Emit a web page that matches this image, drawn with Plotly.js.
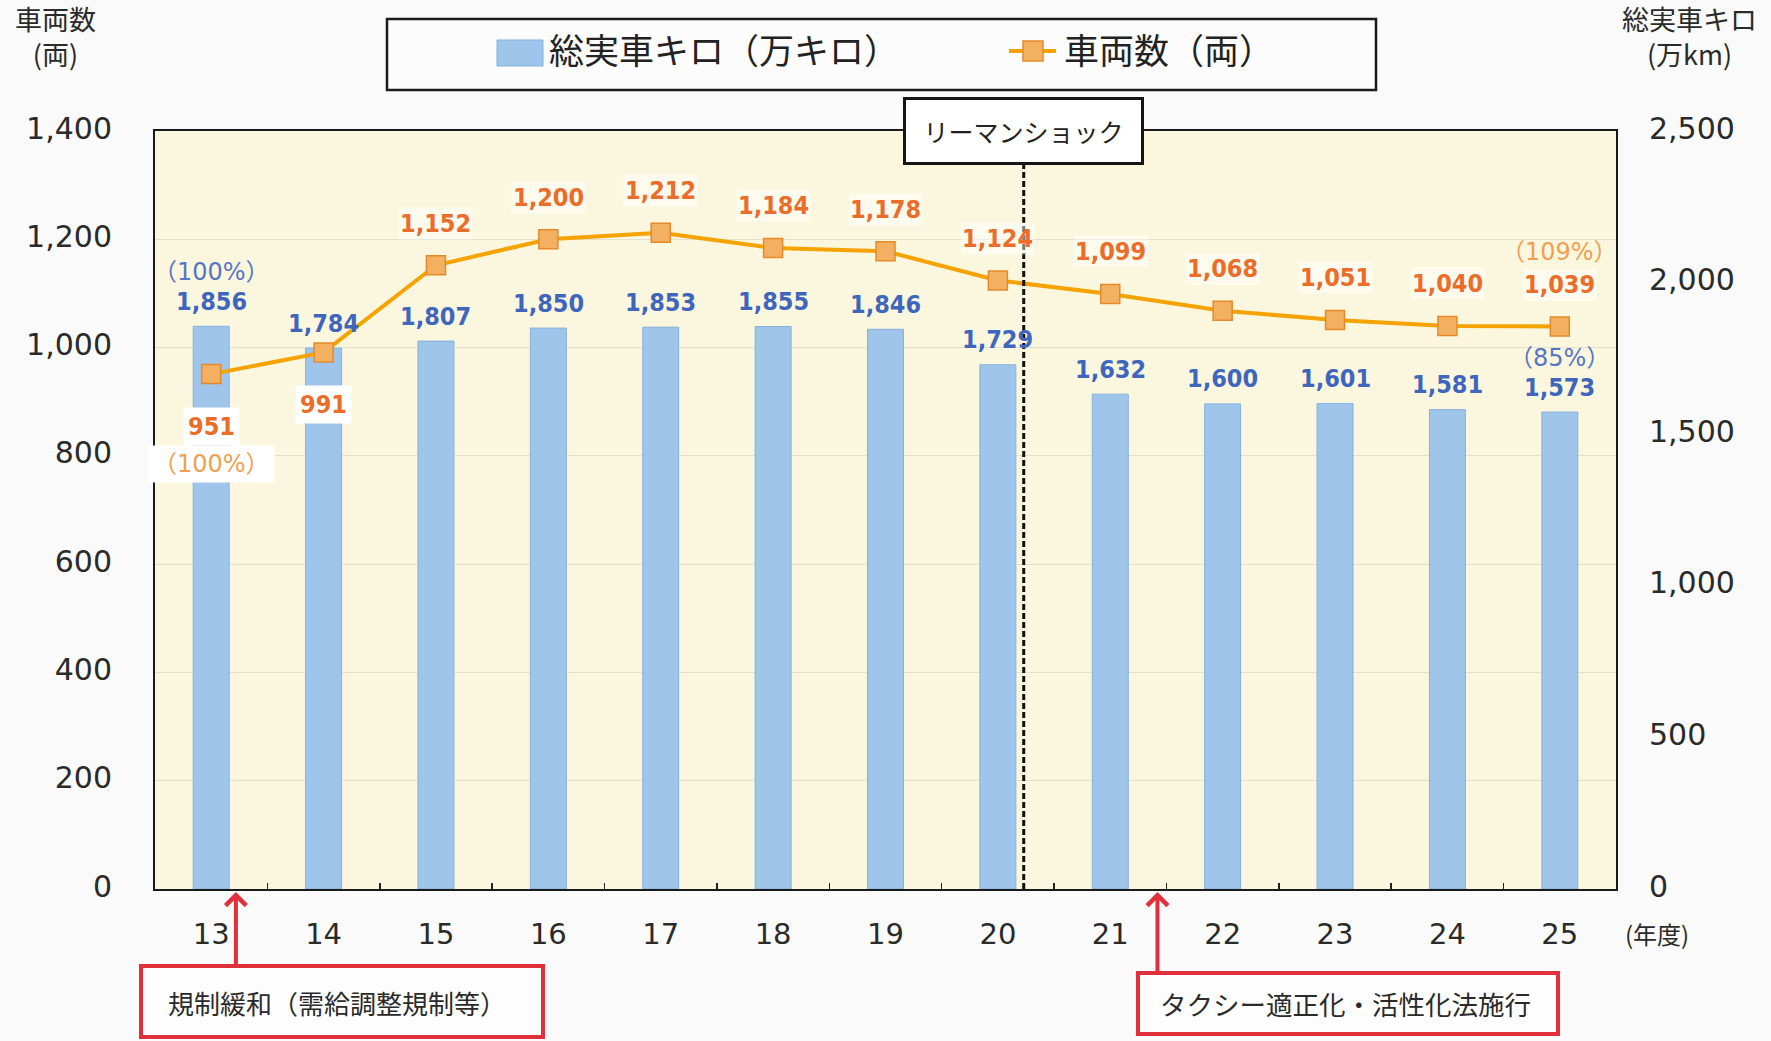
<!DOCTYPE html>
<html>
<head>
<meta charset="utf-8">
<script src="https://cdn.plot.ly/plotly-3.0.1.min.js"></script>
<style>
  html, body { margin: 0; padding: 0; background: #f9faf9; }
  #chart { width: 1771px; height: 1041px; }
</style>
</head>
<body>
<div id="chart"></div>
<script>
// ---- data ----
const years = ['13','14','15','16','17','18','19','20','21','22','23','24','25'];
const kmValues = [1856, 1784, 1807, 1850, 1853, 1855, 1846, 1729, 1632, 1600, 1601, 1581, 1573];   // 総実車キロ（万キロ）
const vehicleValues = [951, 991, 1152, 1200, 1212, 1184, 1178, 1124, 1099, 1068, 1051, 1040, 1039]; // 車両数（両）
const kmName = '総実車キロ（万キロ）';
const vehicleName = '車両数（両）';
const leftTitle = '車両数<br>(両)';
const rightTitle = '総実車キロ<br>(万km)';
const yearUnit = '(年度)';
const lehmanText = 'リーマンショック';
const deregText = '規制緩和（需給調整規制等）';
const taxiLawText = 'タクシー適正化・活性化法施行';
const vehicleLabelsBelow = ['13', '14'];

// ---- layout helpers ----
const W = 1771, H = 1041;
const M = { l: 155, r: 155, t: 131, b: 152 };
const PW = W - M.l - M.r, PH = H - M.t - M.b;
const px = x => (x - M.l) / PW;
const py = y => (H - M.b - y) / PH;

const FONT = 'DejaVu Sans, Noto Sans CJK JP, sans-serif';
const JFONT = 'Noto Sans CJK JP, DejaVu Sans, sans-serif';
const NUMFONT = 'DejaVu Sans Condensed, DejaVu Sans, sans-serif';
const BLUE_TXT = '#3f66bd';
const ORANGE_TXT = '#ec6c2a';
const BAR_FILL = '#a0c5ea';
const BAR_EDGE = '#84b1de';
const LINE_COL = '#f4a300';
const MARK_FILL = '#f2b060';
const MARK_EDGE = '#e58a2c';
const RED = '#e0303c';
const fmt = v => v.toLocaleString('en-US');

const traces = [
  {
    type: 'bar', name: kmName, x: years, y: kmValues, yaxis: 'y',
    marker: { color: BAR_FILL, line: { color: BAR_EDGE, width: 1 } },
    hoverinfo: 'x+y'
  },
  {
    type: 'scatter', mode: 'lines+markers', name: vehicleName, x: years, y: vehicleValues, yaxis: 'y2',
    line: { color: LINE_COL, width: 4 },
    marker: { symbol: 'square', size: 19, color: MARK_FILL, line: { color: MARK_EDGE, width: 1.5 } }
  }
];

const annotations = [];
const shapes = [];

// data labels: bars (x given as category index)
kmValues.forEach((v, i) => {
  annotations.push({
    xref: 'x', yref: 'y', x: i, y: v, xanchor: 'center', yanchor: 'middle', yshift: 25,
    text: '<b>' + fmt(v) + '</b>', showarrow: false,
    font: { family: NUMFONT, size: 25, color: BLUE_TXT }
  });
});
// percent of first year for first & last bars
[0, kmValues.length - 1].forEach(i => {
  annotations.push({
    xref: 'x', yref: 'y', x: i, y: kmValues[i], xanchor: 'center', yanchor: 'middle', yshift: 54,
    text: '（' + Math.round(kmValues[i] / kmValues[0] * 100) + '%）', showarrow: false,
    font: { family: FONT, size: 24, color: '#5676c4' }
  });
});
// data labels: line
vehicleValues.forEach((v, i) => {
  const below = vehicleLabelsBelow.includes(years[i]);
  annotations.push({
    xref: 'x', yref: 'y2', x: i, y: v, xanchor: 'center', yanchor: 'middle', yshift: below ? -52 : 42,
    text: '<b>' + fmt(v) + '</b>', showarrow: false,
    bgcolor: below ? '#ffffff' : 'rgba(255,255,255,0.45)', borderpad: below ? 4 : 1,
    font: { family: NUMFONT, size: 25, color: ORANGE_TXT }
  });
});
[0, vehicleValues.length - 1].forEach(i => {
  const below = vehicleLabelsBelow.includes(years[i]);
  annotations.push({
    xref: 'x', yref: 'y2', x: i, y: vehicleValues[i], xanchor: 'center', yanchor: 'middle', yshift: below ? -90 : 74,
    text: '（' + Math.round(vehicleValues[i] / vehicleValues[0] * 100) + '%）', showarrow: false,
    bgcolor: below ? '#ffffff' : 'rgba(0,0,0,0)', borderpad: below ? 4 : 1,
    font: { family: FONT, size: 24, color: '#f0a050' }
  });
});

// axis titles
annotations.push({ xref: 'paper', yref: 'paper', x: px(56), y: py(36), xanchor: 'center', yanchor: 'middle',
  text: leftTitle, showarrow: false, font: { family: JFONT, size: 27, color: '#2a2a2a' } });
annotations.push({ xref: 'paper', yref: 'paper', x: px(1689), y: py(36), xanchor: 'center', yanchor: 'middle',
  text: rightTitle, showarrow: false, font: { family: JFONT, size: 27, color: '#2a2a2a' } });
annotations.push({ xref: 'paper', yref: 'paper', x: px(1657), y: py(933), xanchor: 'center', yanchor: 'middle',
  text: yearUnit, showarrow: false, font: { family: JFONT, size: 24, color: '#2a2a2a' } });

// legend (drawn)
shapes.push({ type: 'rect', xref: 'paper', yref: 'paper', x0: px(387), x1: px(1376), y0: py(90), y1: py(19),
  line: { color: '#1a1a1a', width: 2.5 }, fillcolor: 'rgba(255,255,255,0.35)' });
shapes.push({ type: 'rect', xref: 'paper', yref: 'paper', x0: px(497), x1: px(543), y0: py(66), y1: py(40),
  line: { color: BAR_EDGE, width: 1 }, fillcolor: BAR_FILL });
annotations.push({ xref: 'paper', yref: 'paper', x: px(547), y: py(49), xanchor: 'left', yanchor: 'middle',
  text: kmName, showarrow: false, font: { family: JFONT, size: 35, color: '#222' } });
shapes.push({ type: 'line', xref: 'paper', yref: 'paper', x0: px(1009), x1: px(1056), y0: py(51), y1: py(51),
  line: { color: LINE_COL, width: 4 } });
shapes.push({ type: 'rect', xref: 'paper', yref: 'paper', x0: px(1023), x1: px(1043), y0: py(61), y1: py(41),
  line: { color: MARK_EDGE, width: 1.5 }, fillcolor: MARK_FILL });
annotations.push({ xref: 'paper', yref: 'paper', x: px(1062), y: py(49), xanchor: 'left', yanchor: 'middle',
  text: vehicleName, showarrow: false, font: { family: JFONT, size: 35, color: '#222' } });

// Lehman shock marker
shapes.push({ type: 'line', xref: 'x', yref: 'paper', x0: 7.23, x1: 7.23, y0: 0, y1: py(165),
  line: { color: '#111', width: 3, dash: '6px,3px' } });
annotations.push({ xref: 'x', yref: 'paper', x: 7.23, y: py(131), xanchor: 'center', yanchor: 'middle',
  text: lehmanText, showarrow: false,
  width: 235, height: 62, borderpad: 0, borderwidth: 3, bordercolor: '#151515', bgcolor: '#ffffff',
  font: { family: JFONT, size: 25, color: '#222' } });

// policy arrows & boxes
[[0.22, 892, 966], [8.42, 892, 973]].forEach(a => {
  annotations.push({ xref: 'x', yref: 'paper', x: a[0], y: py(a[1]), ax: 0, ay: a[2] - a[1], text: '',
    showarrow: true, arrowhead: 4, arrowsize: 1, arrowwidth: 4, arrowcolor: RED, standoff: 0 });
});
shapes.push({ type: 'rect', xref: 'paper', yref: 'paper', x0: px(141), x1: px(543), y0: py(1037), y1: py(966),
  line: { color: RED, width: 4 }, fillcolor: 'rgba(255,255,255,0.6)' });
annotations.push({ xref: 'paper', yref: 'paper', x: px(166), y: py(1002), xanchor: 'left', yanchor: 'middle',
  text: deregText, showarrow: false, font: { family: JFONT, size: 26, color: '#2a2a2a' } });
shapes.push({ type: 'rect', xref: 'paper', yref: 'paper', x0: px(1138), x1: px(1558), y0: py(1034), y1: py(973),
  line: { color: RED, width: 4 }, fillcolor: 'rgba(255,255,255,0.6)' });
annotations.push({ xref: 'paper', yref: 'paper', x: px(1158), y: py(1003), xanchor: 'left', yanchor: 'middle',
  text: taxiLawText, showarrow: false, font: { family: JFONT, size: 26.5, color: '#2a2a2a' } });

const layout = {
  width: W, height: H,
  margin: M,
  paper_bgcolor: '#f9faf9',
  plot_bgcolor: '#fbf7de',
  showlegend: false,
  bargap: 0.68,
  font: { family: FONT, color: '#2a2a2a' },
  xaxis: {
    type: 'category', range: [-0.5, years.length - 0.5], autorange: false,
    ticks: 'inside', tickson: 'boundaries', ticklen: 6, tickwidth: 1.5, tickcolor: '#222',
    showline: true, mirror: true, linecolor: '#1a1a1a', linewidth: 2,
    tickfont: { family: FONT, size: 29, color: '#2a2a2a' }, ticklabelstandoff: 18,
    showgrid: false
  },
  yaxis: {
    side: 'right', range: [0, 2500], autorange: false, dtick: 500, tickformat: ',d',
    showline: true, mirror: true, linecolor: '#1a1a1a', linewidth: 2,
    showgrid: false, zeroline: false, ticks: '',
    tickfont: { family: FONT, size: 30, color: '#2a2a2a' }, ticklabelstandoff: 25, ticklabelshift: -3
  },
  yaxis2: {
    overlaying: 'y', side: 'left', range: [0, 1400], autorange: false, dtick: 200, tickformat: ',d',
    showgrid: true, gridcolor: '#e4e0cc', gridwidth: 1, zeroline: false, ticks: '',
    showline: false,
    tickfont: { family: FONT, size: 30, color: '#2a2a2a' }, ticklabelstandoff: 42, ticklabelshift: -3
  },
  annotations: annotations,
  shapes: shapes
};

Plotly.newPlot('chart', traces, layout, { displayModeBar: false, staticPlot: true });
</script>
</body>
</html>
